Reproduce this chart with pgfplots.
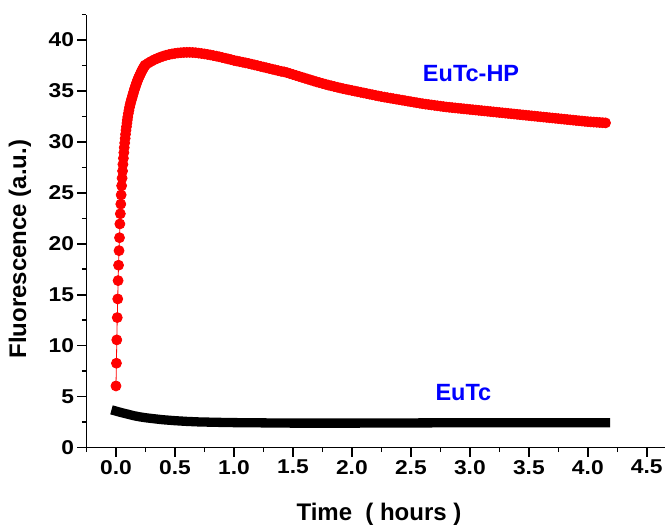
\documentclass[border=0pt]{standalone}
\usepackage{fontspec}
\setmainfont{Liberation Sans}
\newfontfamily\tickfont{Liberation Sans}[FakeStretch=1.14]
\usepackage{pgfplots}
\pgfplotsset{compat=1.18}
\usetikzlibrary{calc}
\definecolor{labelblue}{RGB}{0,0,255}

\pgfplotstableread{
x y
0.000 6.05
0.004 8.28
0.007 10.57
0.011 12.76
0.015 14.59
0.018 16.39
0.022 17.90
0.026 19.33
0.030 20.60
0.033 21.95
0.037 22.95
0.041 23.90
0.044 24.80
0.048 25.70
0.052 26.45
0.056 27.15
0.059 27.80
0.063 28.40
0.067 28.95
0.070 29.45
0.074 29.90
0.078 30.35
0.081 30.75
0.085 31.15
0.089 31.50
0.093 31.85
0.096 32.15
0.100 32.45
0.105 32.80
0.110 33.10
0.115 33.40
0.120 33.65
0.125 33.90
0.130 34.10
0.135 34.30
0.140 34.50
0.145 34.70
0.150 34.90
0.155 35.10
0.160 35.28
0.165 35.45
0.170 35.62
0.175 35.80
0.180 35.95
0.185 36.10
0.190 36.25
0.195 36.38
0.200 36.50
0.205 36.62
0.210 36.75
0.215 36.87
0.220 37.00
0.225 37.10
0.230 37.20
0.235 37.30
0.240 37.40
0.245 37.50
0.250 37.56
0.275 37.75
0.300 37.92
0.325 38.07
0.350 38.20
0.375 38.32
0.400 38.42
0.425 38.51
0.450 38.58
0.475 38.64
0.500 38.69
0.525 38.73
0.550 38.76
0.575 38.78
0.600 38.79
0.625 38.79
0.650 38.78
0.675 38.76
0.700 38.72
0.725 38.68
0.750 38.64
0.775 38.59
0.800 38.54
0.825 38.48
0.850 38.42
0.875 38.36
0.900 38.29
0.925 38.22
0.950 38.15
0.975 38.08
1.000 38.00
1.025 37.94
1.050 37.88
1.075 37.82
1.100 37.76
1.125 37.70
1.150 37.63
1.175 37.56
1.200 37.49
1.225 37.42
1.250 37.35
1.275 37.28
1.300 37.21
1.325 37.14
1.350 37.07
1.375 37.00
1.400 36.93
1.425 36.88
1.450 36.80
1.475 36.71
1.500 36.62
1.525 36.53
1.550 36.44
1.575 36.35
1.600 36.26
1.625 36.17
1.650 36.08
1.675 35.99
1.700 35.90
1.725 35.82
1.750 35.74
1.775 35.66
1.800 35.58
1.825 35.51
1.850 35.44
1.875 35.37
1.900 35.30
1.925 35.23
1.950 35.17
1.975 35.11
2.000 35.05
2.025 34.99
2.050 34.93
2.075 34.87
2.100 34.81
2.125 34.75
2.150 34.69
2.175 34.63
2.200 34.57
2.225 34.51
2.250 34.45
2.275 34.40
2.300 34.35
2.325 34.30
2.350 34.25
2.375 34.20
2.400 34.15
2.425 34.10
2.450 34.05
2.475 34.00
2.500 33.95
2.525 33.90
2.550 33.85
2.575 33.80
2.600 33.75
2.625 33.71
2.650 33.67
2.675 33.63
2.700 33.59
2.725 33.55
2.750 33.51
2.775 33.47
2.800 33.43
2.825 33.40
2.850 33.37
2.875 33.34
2.900 33.31
2.925 33.28
2.950 33.25
2.975 33.22
3.000 33.19
3.025 33.16
3.050 33.13
3.075 33.10
3.100 33.07
3.125 33.04
3.150 33.01
3.175 32.98
3.200 32.95
3.225 32.92
3.250 32.89
3.275 32.86
3.300 32.83
3.325 32.80
3.350 32.77
3.375 32.74
3.400 32.71
3.425 32.68
3.450 32.65
3.475 32.62
3.500 32.59
3.525 32.56
3.550 32.53
3.575 32.50
3.600 32.47
3.625 32.44
3.650 32.41
3.675 32.38
3.700 32.35
3.725 32.32
3.750 32.29
3.775 32.26
3.800 32.23
3.825 32.20
3.850 32.17
3.875 32.14
3.900 32.11
3.925 32.08
3.950 32.05
3.975 32.02
4.000 31.99
4.025 31.97
4.050 31.95
4.075 31.93
4.100 31.91
4.125 31.89
4.150 31.87
}\eutchp

\pgfplotstableread{
x y
0.00 3.58
0.05 3.42
0.10 3.28
0.15 3.13
0.20 3.02
0.25 2.93
0.30 2.86
0.40 2.73
0.50 2.64
0.60 2.57
0.70 2.52
0.85 2.48
1.00 2.45
1.50 2.40
2.00 2.40
2.50 2.42
3.00 2.44
3.50 2.44
4.00 2.43
4.15 2.43
}\eutc

\begin{document}
\begin{tikzpicture}
\begin{axis}[
    scale only axis,
    width=578.2pt, height=433.1pt,
    xmin=-0.25, xmax=4.65,
    ymin=0, ymax=42.5,
    axis lines*=left,
    axis line style={line width=1.6pt},
    every tick/.style={line width=1.6pt, black},
    tick align=outside,
    major tick length=9pt,
    minor tick length=4.5pt,
    xtick={0,0.5,...,4.5},
    minor xtick={-0.25,0.25,...,4.25},
    ytick={0,5,...,40},
    minor ytick={2.5,7.5,...,42.5},
    /pgf/number format/assume math mode=true,
    ticklabel style={font=\tickfont\bfseries\fontsize{20}{22}\selectfont},
    xticklabel style={/pgf/number format/.cd, fixed, fixed zerofill, precision=1},
    xlabel={Time\ \ ( hours )},
    ylabel={Fluorescence (a.u.)},
    label style={font=\bfseries\fontsize{24}{26}\selectfont},
    xlabel style={at={(axis description cs:0.506,-0.155)}, anchor=center},
    ylabel style={at={(axis description cs:-0.115,0.458)}, anchor=center},
    clip=false,
]
\addplot[black, line width=9.3pt, line cap=rect, line join=round] table {\eutc};
\addplot[red, line width=0.8pt, mark=*, mark size=5pt,
         mark options={solid, fill=red, draw=none}] table {\eutchp};
\node[text=labelblue, font=\bfseries\fontsize{23.5}{25}\selectfont]
    at (axis cs:3.01,36.74) {EuTc-HP};
\node[text=labelblue, font=\bfseries\fontsize{23.5}{25}\selectfont]
    at (axis cs:2.945,5.37) {EuTc};
\end{axis}
\path ($(current axis.south west)+(-86.5pt,-79.3pt)$) rectangle
      ($(current axis.north east)+(1.3pt,14.6pt)$);
\end{tikzpicture}
\end{document}
